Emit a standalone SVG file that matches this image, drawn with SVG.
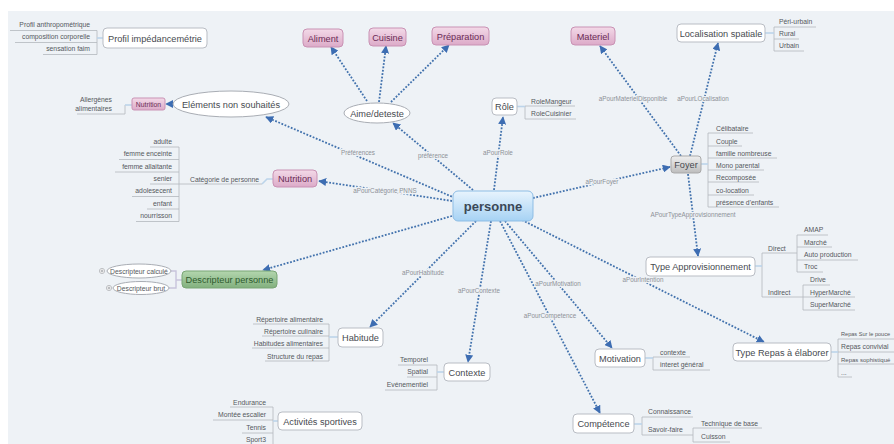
<svg xmlns="http://www.w3.org/2000/svg" width="894" height="444" viewBox="0 0 894 444">
<defs>
  <linearGradient id="gBlue" x1="0" y1="0" x2="0" y2="1">
    <stop offset="0" stop-color="#e8f4fd"/><stop offset="1" stop-color="#a6d2f4"/>
  </linearGradient>
  <linearGradient id="gPink" x1="0" y1="0" x2="0" y2="1">
    <stop offset="0" stop-color="#f3dae8"/><stop offset="1" stop-color="#dcaac8"/>
  </linearGradient>
  <linearGradient id="gGrey" x1="0" y1="0" x2="0" y2="1">
    <stop offset="0" stop-color="#efefef"/><stop offset="1" stop-color="#bdbdbd"/>
  </linearGradient>
  <linearGradient id="gGreen" x1="0" y1="0" x2="0" y2="1">
    <stop offset="0" stop-color="#b3d6ae"/><stop offset="1" stop-color="#82b07e"/>
  </linearGradient>
  <marker id="ah" viewBox="0 0 10 10" refX="9" refY="5" markerWidth="8" markerHeight="8" markerUnits="userSpaceOnUse" orient="auto">
    <path d="M0,0 L10,5 L0,10 z" fill="#3d6db2"/>
  </marker>
  <style>
    text { font-family: "Liberation Sans", Arial, sans-serif; }
    .box { fill: #ffffff; stroke: #b9bdc4; stroke-width: 1; }
    .pink { fill: url(#gPink); stroke: #c992b4; stroke-width: 1; }
    .ell { fill: #ffffff; stroke: #a9adb4; stroke-width: 1; }
    .t { font-size: 9.2px; fill: #474a4f; text-anchor: middle; }
    .tp { font-size: 9.2px; fill: #6a2b55; text-anchor: middle; }
    .lf { font-size: 6.8px; fill: #55585d; }
    .lfe { font-size: 6.8px; fill: #55585d; text-anchor: end; }
    .ul { fill: none; stroke: #b3b7be; stroke-width: 0.8; }
    .lk { fill: none; stroke: #bcd4ea; stroke-width: 1.6; }
    .edge { fill: none; stroke: #4272ad; stroke-width: 1.8; stroke-dasharray: 1.8 1.6; marker-end: url(#ah); }
    .lbl { font-size: 6.3px; fill: #8d9197; text-anchor: middle; stroke: #eef2f6; stroke-width: 2.5; paint-order: stroke; }
  </style>
</defs>

<!-- canvas -->
<rect x="0" y="0" width="894" height="444" fill="#ffffff"/>
<rect x="8" y="11" width="886" height="433" fill="#eef2f6"/>

<!-- relationship connectors -->
<g id="connectors">
  <path class="edge" d="M455,198 L266,117"/>
  <path class="edge" d="M473,190 L393,123"/>
  <path class="edge" d="M494,190 L503,117"/>
  <path class="edge" d="M452,201 L319,181"/>
  <path class="edge" d="M452,216 L263,270"/>
  <path class="edge" d="M476,221 L370,327"/>
  <path class="edge" d="M491,221 L468,362"/>
  <path class="edge" d="M500,221 L600,413"/>
  <path class="edge" d="M505,221 L612,348"/>
  <path class="edge" d="M522,220 L764,342"/>
  <path class="edge" d="M533,198 L670,167"/>
  <path class="edge" d="M681,156 L600,46"/>
  <path class="edge" d="M690,156 L718,43"/>
  <path class="edge" d="M688,174 L698,256"/>
  <path class="edge" d="M367,101 L331,47"/>
  <path class="edge" d="M379,102 L386,46"/>
  <path class="edge" d="M391,102 L449,45"/>
  <path class="edge" d="M173,104 L166,104"/>

  <text class="lbl" x="358" y="155">Préférences</text>
  <text class="lbl" x="433" y="158">préférence</text>
  <text class="lbl" x="498" y="155">aPourRole</text>
  <text class="lbl" x="385" y="193">aPourCatégorie PNNS</text>
  <text class="lbl" x="602" y="184">aPourFoyer</text>
  <text class="lbl" x="633" y="101">aPourMaterielDisponible</text>
  <text class="lbl" x="703" y="101">aPourLOcalisation</text>
  <text class="lbl" x="693" y="217">APourTypeApprovisionnement</text>
  <text class="lbl" x="643" y="282">aPourIntention</text>
  <text class="lbl" x="423" y="275">aPourHabitude</text>
  <text class="lbl" x="479" y="293">aPourContexte</text>
  <text class="lbl" x="558" y="286">aPourMotivation</text>
  <text class="lbl" x="550" y="318">aPourCompetence</text>
</g>

<!-- central topic -->
<g id="personne">
  <rect x="453" y="191" width="80" height="30" rx="5" fill="url(#gBlue)" stroke="#8dbde5"/>
  <text x="493" y="210.5" font-size="13" font-weight="bold" fill="#3b4856" text-anchor="middle">personne</text>
</g>

<g id="profil">
  <path class="ul" d="M10,30.5 H97 M15,42.5 H97 M43,54.5 H97 M97,30.5 V54.5"/>
  <path class="lk" d="M97,38 H103"/>
  <text class="lfe" x="90" y="27">Profil anthropométrique</text>
  <text class="lfe" x="90" y="39">composition corporelle</text>
  <text class="lfe" x="90" y="51">sensation faim</text>
  <rect class="box" x="103" y="28" width="104" height="20" rx="4"/>
  <text class="t" x="155" y="41.5">Profil impédancemétrie</text>
</g>

<g id="elements">
  <path class="ul" d="M77,114 H125 V105"/>
  <path class="lk" d="M125,105 H132"/>
  <text class="lfe" x="112" y="102">Allergènes</text>
  <text class="lfe" x="112" y="111">alimentaires</text>
  <rect class="pink" x="132" y="98" width="33" height="12" rx="2"/>
  <text x="148.5" y="106.5" font-size="6.8" fill="#6a2b55" text-anchor="middle">Nutrition</text>
  <ellipse class="ell" cx="231" cy="104" rx="58" ry="13"/>
  <text class="t" x="231" y="107.5">Eléments non souhaités</text>
</g>

<g id="aime">
  <ellipse class="ell" cx="377" cy="113" rx="33" ry="10"/>
  <text class="t" x="377" y="116.5">Aime/deteste</text>
</g>
<g id="aliment">
  <rect class="pink" x="303" y="29" width="40" height="18" rx="4"/>
  <text class="tp" x="323" y="41.5">Aliment</text>
</g>
<g id="cuisine">
  <rect class="pink" x="369" y="28" width="37" height="18" rx="4"/>
  <text class="tp" x="387.5" y="40.5">Cuisine</text>
</g>
<g id="preparation">
  <rect class="pink" x="432" y="27" width="57" height="18" rx="4"/>
  <text class="tp" x="460.5" y="39.5">Préparation</text>
</g>
<g id="materiel">
  <rect class="pink" x="571" y="27" width="44" height="18" rx="4"/>
  <text class="tp" x="593" y="39.5">Materiel</text>
</g>

<g id="role">
  <path class="ul" d="M525,106 H575 M525,119 H576 M525,106 V119"/>
  <path class="lk" d="M517,106.5 H525"/>
  <rect class="box" x="492" y="98" width="25" height="17" rx="4"/>
  <text class="t" x="504.5" y="110">Rôle</text>
  <text class="lf" x="531" y="103.5">RoleMangeur</text>
  <text class="lf" x="531" y="115.5">RoleCuisinier</text>
</g>

<g id="localisation">
  <path class="ul" d="M774,27 H816 M774,39 H799 M774,51 H804 M774,27 V51"/>
  <path class="lk" d="M765,33 H774"/>
  <rect class="box" x="677" y="24" width="88" height="18" rx="4"/>
  <text class="t" x="721" y="36.5">Localisation spatiale</text>
  <text class="lf" x="779" y="23.5">Péri-urbain</text>
  <text class="lf" x="779" y="35.5">Rural</text>
  <text class="lf" x="779" y="48">Urbain</text>
</g>

<g id="foyer">
  <path class="ul" d="M708,133 H753 M708,146 H742 M708,158 H777 M708,170 H764 M708,182 H759 M708,195 H754 M708,207 H779 M708,133 V207"/>
  <path class="lk" d="M701,164 H708"/>
  <rect x="671" y="156" width="30" height="17" rx="3" fill="url(#gGrey)" stroke="#a9a9a9"/>
  <text class="t" x="686" y="168">Foyer</text>
  <text class="lf" x="716" y="130.5">Célibataire</text>
  <text class="lf" x="716" y="143.5">Couple</text>
  <text class="lf" x="716" y="155.5">famille nombreuse</text>
  <text class="lf" x="716" y="167.5">Mono parental</text>
  <text class="lf" x="716" y="179.5">Recomposée</text>
  <text class="lf" x="716" y="192.5">co-location</text>
  <text class="lf" x="716" y="204.5">présence d'enfants</text>
</g>

<g id="nutrition">
  <path class="ul" d="M150,147 H179 M119,159.5 H179 M115,172 H179 M150,184 H179 M132,196.5 H179 M147,209 H179 M136,221.5 H179 M179,147 V221.5 M179,184 H262"/>
  <path class="lk" d="M262,184 L267,179 H273"/>
  <text class="lfe" x="172" y="143.5">adulte</text>
  <text class="lfe" x="172" y="156">femme enceinte</text>
  <text class="lfe" x="172" y="168.5">femme allaitante</text>
  <text class="lfe" x="172" y="181">senier</text>
  <text class="lfe" x="172" y="193">adolesecent</text>
  <text class="lfe" x="172" y="205.5">enfant</text>
  <text class="lfe" x="172" y="218">nourrisson</text>
  <text class="lf" x="190" y="181.5">Catégorie de personne</text>
  <rect class="pink" x="273" y="170" width="44" height="17" rx="4"/>
  <text class="tp" x="295" y="182">Nutrition</text>
</g>

<g id="descripteur">
  <path fill="none" stroke="#c8c4dc" stroke-width="1.4" d="M171,271 H176 V288 H169 M176,280 H182"/>
  <ellipse class="ell" cx="139" cy="271" rx="32" ry="7"/>
  <text x="139" y="273.5" font-size="6.8" fill="#55585d" text-anchor="middle">Descripteur calculé</text>
  <ellipse class="ell" cx="141" cy="288" rx="28" ry="6.5"/>
  <text x="141" y="290.5" font-size="6.8" fill="#55585d" text-anchor="middle">Descripteur brut</text>
  <circle cx="102" cy="271" r="2.6" fill="#ffffff" stroke="#a3a6ab" stroke-width="0.7"/>
  <path stroke="#8a8d92" stroke-width="0.7" d="M100.5,271 H103.5 M102,269.5 V272.5"/>
  <circle cx="109" cy="288" r="2.6" fill="#ffffff" stroke="#a3a6ab" stroke-width="0.7"/>
  <path stroke="#8a8d92" stroke-width="0.7" d="M107.5,288 H110.5 M109,286.5 V289.5"/>
  <rect x="182" y="271" width="95" height="17" rx="4" fill="url(#gGreen)" stroke="#79a575"/>
  <text x="229.5" y="283" font-size="9.2" fill="#2e5a2e" text-anchor="middle">Descripteur personne</text>
</g>

<g id="habitude">
  <path class="ul" d="M253,324 H329 M262,336 H329 M252,348 H329 M265,361 H329 M329,324 V361"/>
  <path class="lk" d="M329,337 H338"/>
  <text class="lfe" x="323" y="321.5">Répertoire alimentaire</text>
  <text class="lfe" x="323" y="333.5">Répertoire culinaire</text>
  <text class="lfe" x="323" y="345.5">Habitudes alimentaires</text>
  <text class="lfe" x="323" y="358.5">Structure du repas</text>
  <rect class="box" x="338" y="328" width="45" height="19" rx="4"/>
  <text class="t" x="360.5" y="341">Habitude</text>
</g>

<g id="contexte">
  <path class="ul" d="M398,365 H437 M407,377 H437 M385,390 H437 M437,365 V390"/>
  <path class="lk" d="M437,372 H444"/>
  <text class="lfe" x="428" y="361.5">Temporel</text>
  <text class="lfe" x="428" y="373.5">Spatial</text>
  <text class="lfe" x="428" y="386.5">Evénementiel</text>
  <rect class="box" x="444" y="363" width="46" height="18" rx="4"/>
  <text class="t" x="467" y="375.5">Contexte</text>
</g>

<g id="activites">
  <path class="ul" d="M230,407 H273 M213,420 H273 M242,433 H273 M273,407 V444"/>
  <path class="lk" d="M273,421 H278"/>
  <text class="lfe" x="266" y="404.5">Endurance</text>
  <text class="lfe" x="266" y="416.5">Montée escalier</text>
  <text class="lfe" x="266" y="429.5">Tennis</text>
  <text class="lfe" x="266" y="441.5">Sport3</text>
  <rect class="box" x="278" y="412" width="84" height="18" rx="4"/>
  <text class="t" x="320" y="424.5">Activités sportives</text>
</g>

<g id="motivation">
  <path class="ul" d="M653,357 H690 M653,370 H710 M653,357 V370"/>
  <path class="lk" d="M645,358 H653"/>
  <rect class="box" x="595" y="349" width="50" height="18" rx="4"/>
  <text class="t" x="620" y="361.5">Motivation</text>
  <text class="lf" x="660" y="354.5">contexte</text>
  <text class="lf" x="660" y="366.5">interet général</text>
</g>

<g id="competence">
  <path class="ul" d="M642,417 H693 M642,435 H693 M642,417 V435 M693,428 H762 M693,442 H730 M693,428 V442"/>
  <path class="lk" d="M634,424 H642"/>
  <rect class="box" x="573" y="414" width="61" height="19" rx="4"/>
  <text class="t" x="603.5" y="427">Compétence</text>
  <text class="lf" x="648" y="413.5">Connaissance</text>
  <text class="lf" x="648" y="431.5">Savoir-faire</text>
  <text class="lf" x="701" y="425.5">Technique de base</text>
  <text class="lf" x="701" y="438.5">Cuisson</text>
</g>

<g id="approvisionnement">
  <path class="ul" d="M762,253 H797 M762,297 H803 M762,253 V297 M797,235 H828 M797,247 H832 M797,260 H858 M797,272 H823 M797,235 V272 M803,285 H830 M803,297 H855 M803,310 H855 M803,285 V310"/>
  <path class="lk" d="M755,266 H762"/>
  <rect class="box" x="646" y="257" width="109" height="19" rx="4"/>
  <text class="t" x="700.5" y="270">Type Approvisionnement</text>
  <text class="lf" x="768" y="250.5">Direct</text>
  <text class="lf" x="768" y="294.5">Indirect</text>
  <text class="lf" x="804" y="231.5">AMAP</text>
  <text class="lf" x="804" y="244.5">Marché</text>
  <text class="lf" x="804" y="256.5">Auto production</text>
  <text class="lf" x="804" y="268.5">Troc</text>
  <text class="lf" x="810" y="281.5">Drive</text>
  <text class="lf" x="810" y="294.5">HyperMarché</text>
  <text class="lf" x="810" y="306.5">SuperMarché</text>
</g>

<g id="repas">
  <path class="ul" d="M838,339 H894 M838,352 H894 M838,364 H894 M838,377 H852 M838,339 V377"/>
  <path class="lk" d="M831,352 H838"/>
  <rect class="box" x="733" y="343" width="98" height="18" rx="4"/>
  <text class="t" x="782" y="355.5">Type Repas à élaborer</text>
  <text class="lf" x="841" y="335.5" style="font-size:5.6px">Repas Sur le pouce</text>
  <text class="lf" x="841" y="348.5">Repas convivial</text>
  <text class="lf" x="841" y="361.5" style="font-size:6px">Repas sophistiqué</text>
  <text class="lf" x="841" y="374.5">...</text>
</g>
</svg>
